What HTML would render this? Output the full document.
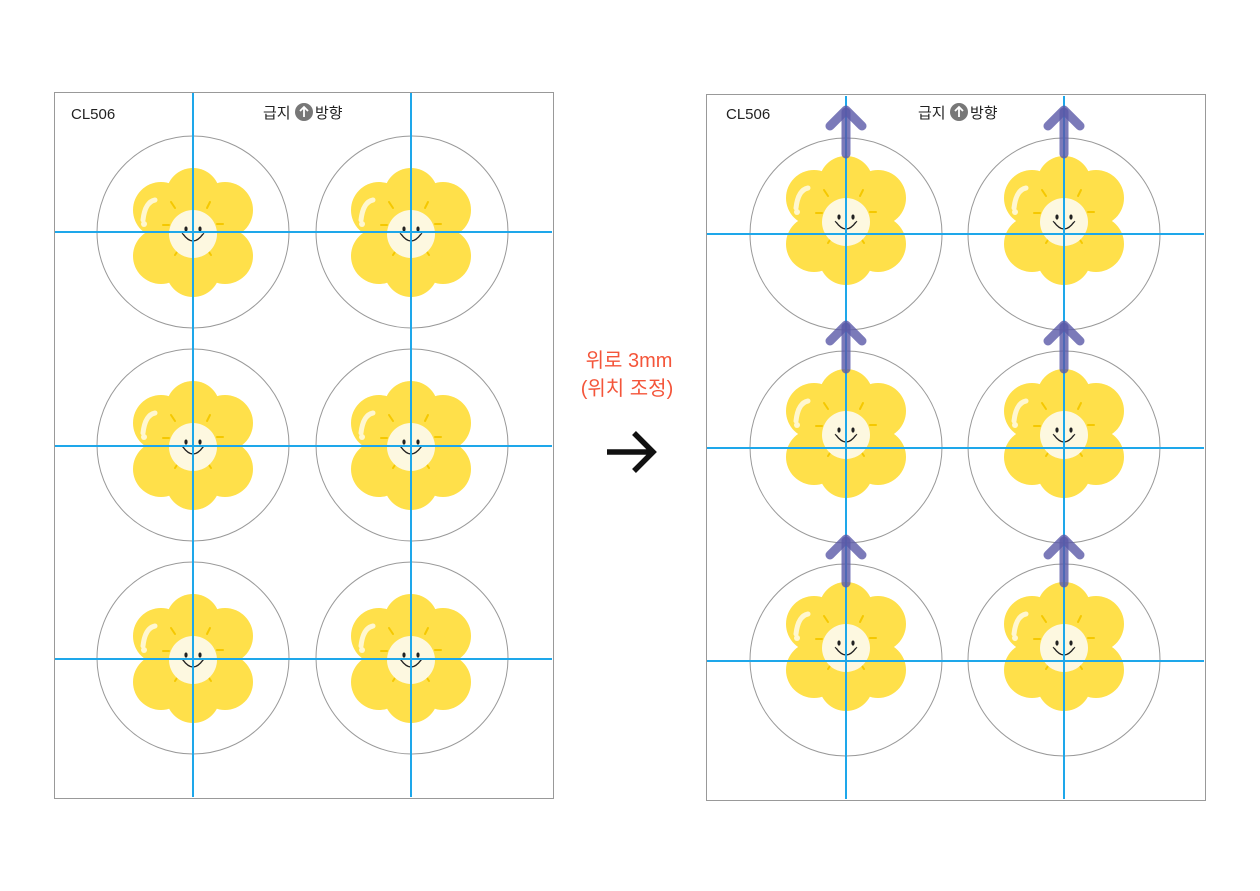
<!DOCTYPE html>
<html><head><meta charset="utf-8"><style>
html,body{margin:0;padding:0;background:#fff;}
svg{display:block;}
text{font-family:"Liberation Sans","Noto Sans CJK KR",sans-serif;}
</style></head><body>
<svg width="1260" height="891" viewBox="0 0 1260 891" xmlns="http://www.w3.org/2000/svg">
<defs>
<g id="fl">
  <g fill="#ffe04a">
    <circle cx="0" cy="-37" r="27"/>
    <circle cx="32" cy="-22" r="28"/>
    <circle cx="32" cy="24" r="28"/>
    <circle cx="0" cy="38" r="27"/>
    <circle cx="-32" cy="24" r="28"/>
    <circle cx="-32" cy="-22" r="28"/>
    <circle cx="0" cy="0" r="40"/>
  </g>
  <g stroke="#f5c800" stroke-width="2" stroke-linecap="round">
    <line x1="-22" y1="-30" x2="-18" y2="-24"/>
    <line x1="17" y1="-30" x2="14" y2="-24"/>
    <line x1="30" y1="-8" x2="24" y2="-8"/>
    <line x1="-30" y1="-7" x2="-24" y2="-7"/>
    <line x1="-18" y1="23" x2="-14" y2="17"/>
    <line x1="18" y1="23" x2="14" y2="17"/>
  </g>
  <path d="M-50,-12 Q-48,-30 -38,-32" stroke="#fff7d0" stroke-width="5" fill="none" stroke-linecap="round"/>
  <circle cx="-49" cy="-8" r="3" fill="#fff7d0"/>
  <circle cx="0" cy="2" r="24" fill="#fdf8e0"/>
  <ellipse cx="-7" cy="-3" rx="1.6" ry="2.6" fill="#222"/>
  <ellipse cx="7" cy="-3" rx="1.6" ry="2.6" fill="#222"/>
  <path d="M-10,2 Q0,16 10,2" stroke="#222" stroke-width="1.4" fill="none"/>
  <path d="M-11,1 l1.5,2 M11,1 l-1.5,2" stroke="#222" stroke-width="1"/>
</g>
<g id="arw" stroke="#5a59a8" stroke-opacity="0.8" stroke-width="9" stroke-linecap="round" stroke-linejoin="round" fill="none">
  <line x1="0" y1="0" x2="0" y2="-42"/>
  <polyline points="-16,-28 0,-44 16,-28"/>
</g>
</defs>

<!-- left page -->
<rect x="54.5" y="92.5" width="499" height="706" fill="none" stroke="#999" stroke-width="1"/>
<text x="71" y="119" font-size="15" fill="#222">CL506</text>
<text x="263" y="118" font-size="15" fill="#222">급지</text>
<circle cx="304" cy="112" r="9" fill="#777"/>
<path d="M304,117 V107 M300,111 L304,107 L308,111" stroke="#fff" stroke-width="1.8" fill="none"/>
<text x="315" y="118" font-size="15" fill="#222">방향</text>
<g fill="none" stroke="#999" stroke-width="1">
<circle cx="193" cy="232" r="96"/><circle cx="412" cy="232" r="96"/>
<circle cx="193" cy="445" r="96"/><circle cx="412" cy="445" r="96"/>
<circle cx="193" cy="658" r="96"/><circle cx="412" cy="658" r="96"/>
</g>
<use href="#fl" x="193" y="232"/><use href="#fl" x="411" y="232"/>
<use href="#fl" x="193" y="445"/><use href="#fl" x="411" y="445"/>
<use href="#fl" x="193" y="658"/><use href="#fl" x="411" y="658"/>
<g stroke="#1ea7ea" stroke-width="2">
<line x1="193" y1="93" x2="193" y2="797"/><line x1="411" y1="93" x2="411" y2="797"/>
<line x1="55" y1="232" x2="552" y2="232"/><line x1="55" y1="446" x2="552" y2="446"/><line x1="55" y1="659" x2="552" y2="659"/>
</g>

<!-- middle -->
<text x="629" y="367" font-size="20" fill="#f4553a" text-anchor="middle">위로 3mm</text>
<text x="627" y="395" font-size="20" fill="#f4553a" text-anchor="middle">(위치 조정)</text>
<path d="M607,452 H652 M634,433 L653,452 L634,471" stroke="#111" stroke-width="5.5" fill="none"/>

<!-- right page -->
<rect x="706.5" y="94.5" width="499" height="706" fill="none" stroke="#999" stroke-width="1"/>
<text x="726" y="119" font-size="15" fill="#222">CL506</text>
<text x="918" y="118" font-size="15" fill="#222">급지</text>
<circle cx="959" cy="112" r="9" fill="#777"/>
<path d="M959,117 V107 M955,111 L959,107 L963,111" stroke="#fff" stroke-width="1.8" fill="none"/>
<text x="970" y="118" font-size="15" fill="#222">방향</text>
<g fill="none" stroke="#999" stroke-width="1">
<circle cx="846" cy="234" r="96"/><circle cx="1064" cy="234" r="96"/>
<circle cx="846" cy="447" r="96"/><circle cx="1064" cy="447" r="96"/>
<circle cx="846" cy="660" r="96"/><circle cx="1064" cy="660" r="96"/>
</g>
<use href="#fl" x="846" y="220"/><use href="#fl" x="1064" y="220"/>
<use href="#fl" x="846" y="433"/><use href="#fl" x="1064" y="433"/>
<use href="#fl" x="846" y="646"/><use href="#fl" x="1064" y="646"/>
<g stroke="#1ea7ea" stroke-width="2">
<line x1="846" y1="96" x2="846" y2="799"/><line x1="1064" y1="96" x2="1064" y2="799"/>
<line x1="707" y1="234" x2="1204" y2="234"/><line x1="707" y1="448" x2="1204" y2="448"/><line x1="707" y1="661" x2="1204" y2="661"/>
</g>
<use href="#arw" x="846" y="154"/><use href="#arw" x="1064" y="154"/>
<use href="#arw" x="846" y="369"/><use href="#arw" x="1064" y="369"/>
<use href="#arw" x="846" y="583"/><use href="#arw" x="1064" y="583"/>
</svg>
</body></html>
